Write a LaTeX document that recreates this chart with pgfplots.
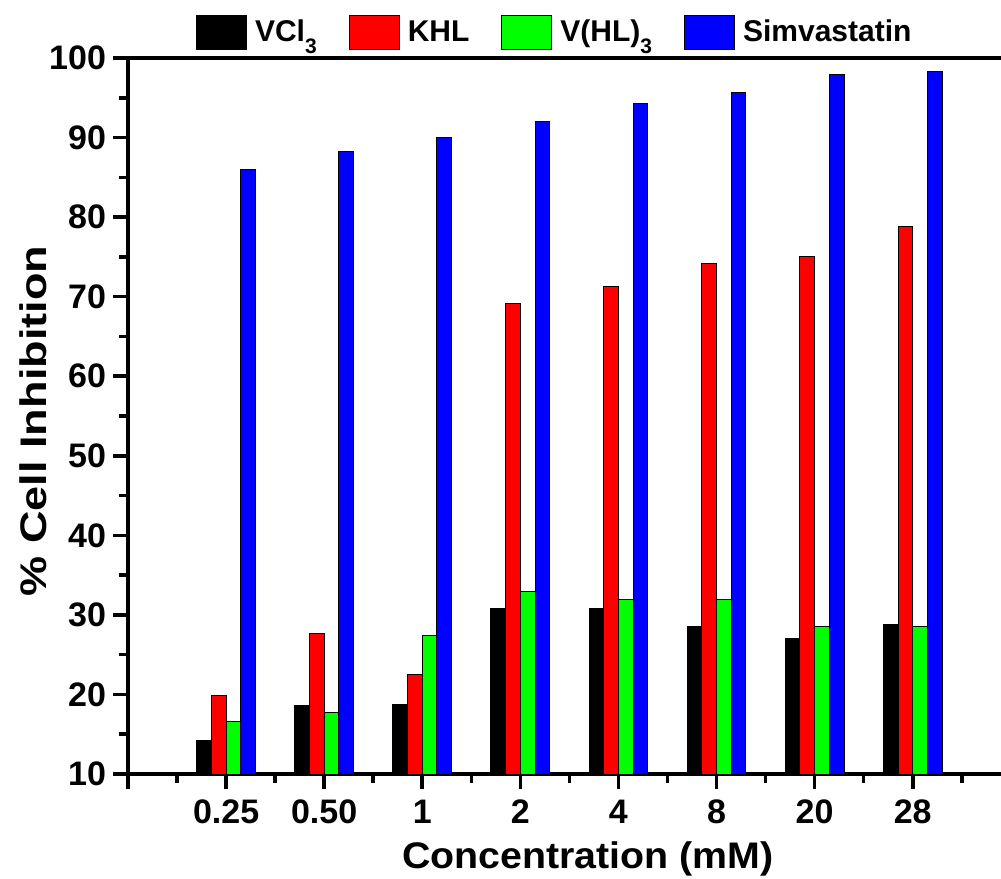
\documentclass[border=0pt]{standalone}
\usepackage{fontspec}
\setmainfont{Liberation Sans}
\usepackage{pgfplots}
\pgfplotsset{compat=1.18}
\newcommand{\sub}[1]{\raisebox{-0.75ex}{\fontsize{10.5}{11}\selectfont #1}}
\begin{document}
\begin{tikzpicture}
\useasboundingbox (-64pt,-52pt) rectangle (436.5pt,387pt);
\begin{axis}[
  at={(0,0)}, anchor=south west,
  scale only axis, width=436.5pt, height=358pt,
  xmin=0, xmax=8.9, ymin=10, ymax=100,
  axis lines=left, axis line style={-, line width=2.2pt},
  xtick={0,...,8}, xticklabels={,0.25,0.50,1,2,4,8,20,28},
  minor xtick={0.5,1.5,...,8.5},
  ytick={10,20,...,100}, minor ytick={15,25,...,95},
  tick align=outside, major tick length=7.5pt, minor tick length=4.5pt,
  tick style={line width=1.8pt, black},
  /pgf/number format/assume math mode=true,
  tick label style={font=\fontsize{17}{18}\selectfont\bfseries},
  xticklabel style={yshift=-2pt},
  xlabel={\scalebox{1.063}[1]{Concentration (mM)}},
  ylabel={\scalebox{1.217}[1]{\% Cell Inhibition}},
  every axis x label/.style={at={(axis description cs:0.527,-0.1313)}, anchor=base,
    font=\fontsize{18.5}{20}\selectfont\bfseries},
  every axis y label/.style={at={(axis description cs:-0.1088,0.493)}, anchor=center, rotate=90,
    font=\fontsize{18.5}{20}\selectfont\bfseries},
  legend columns=4,
  legend style={draw=none, fill=none, at={(axis description cs:0.49,1.036)}, anchor=center,
    font=\fontsize{15}{17}\selectfont\bfseries,
    /tikz/every even column/.append style={column sep=14pt},
    /tikz/every odd column/.append style={column sep=2pt}},
  legend image code/.code={\draw[#1, line width=0.5pt] (0pt,-8.5pt) rectangle (25pt,8.5pt);},
  after end axis/.code={\draw[line width=2.2pt] (rel axis cs:0,1) -- (rel axis cs:1,1);},
]
\addplot[ybar, bar width=0.15, bar shift=-0.225, fill=black, draw=black, line width=0.5pt]
  coordinates {(1,14.2) (2,18.6) (3,18.7) (4,30.8) (5,30.8) (6,28.6) (7,27.0) (8,28.8)};
\addplot[ybar, bar width=0.15, bar shift=-0.075, fill=red, draw=black, line width=0.5pt]
  coordinates {(1,19.9) (2,27.6) (3,22.5) (4,69.2) (5,71.3) (6,74.2) (7,75.0) (8,78.8)};
\addplot[ybar, bar width=0.15, bar shift=0.075, fill=green, draw=black, line width=0.5pt]
  coordinates {(1,16.6) (2,17.7) (3,27.4) (4,33.0) (5,31.9) (6,31.9) (7,28.6) (8,28.6)};
\addplot[ybar, bar width=0.15, bar shift=0.225, fill=blue, draw=black, line width=0.5pt]
  coordinates {(1,86.0) (2,88.2) (3,90.0) (4,92.0) (5,94.3) (6,95.7) (7,97.9) (8,98.3)};
\legend{VCl\sub{3}, KHL, V(HL)\sub{3}, Simvastatin}
\end{axis}
\end{tikzpicture}
\end{document}
